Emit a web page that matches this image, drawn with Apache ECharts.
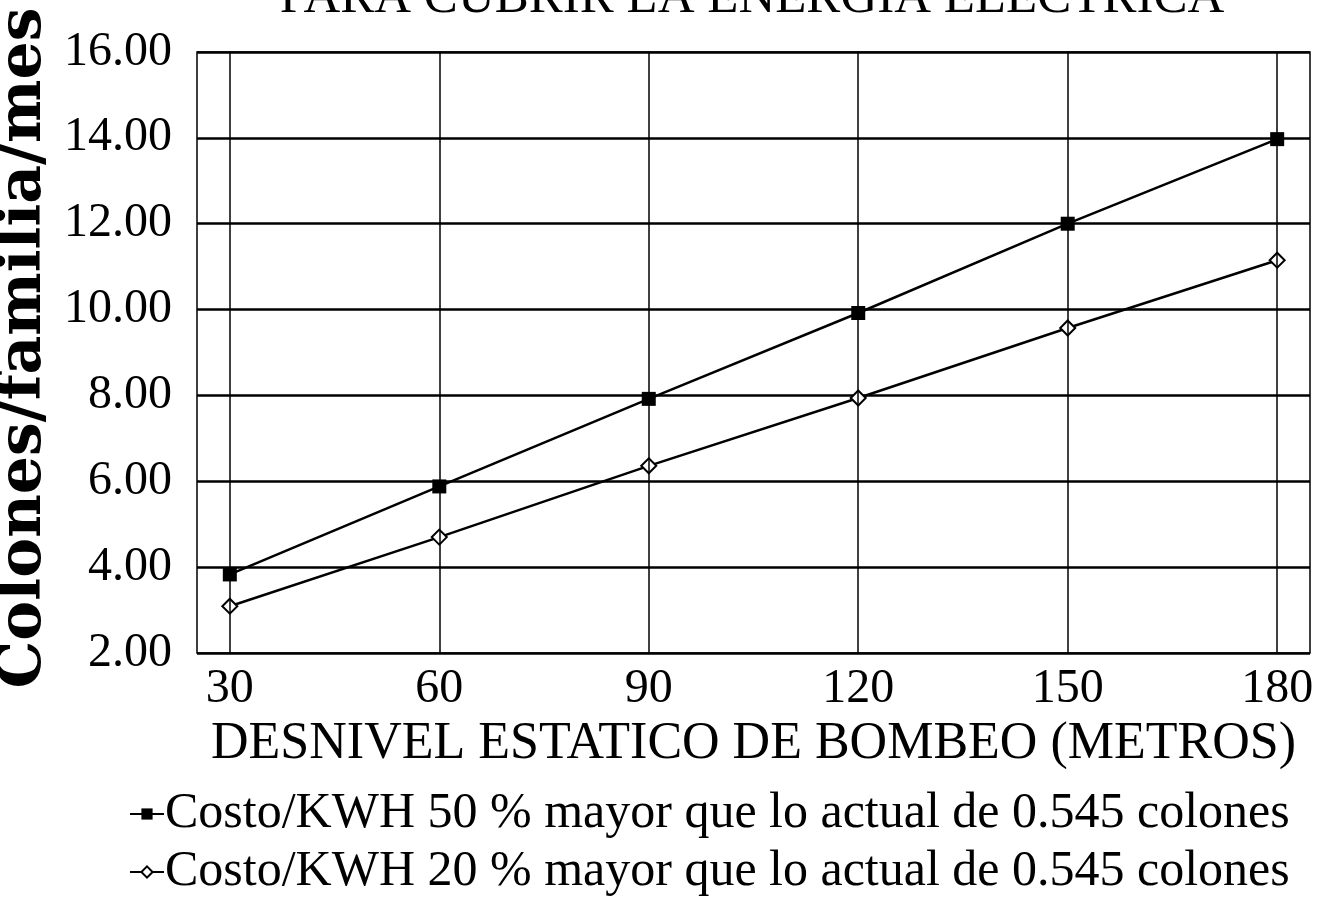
<!DOCTYPE html>
<html>
<head>
<meta charset="utf-8">
<script src="https://cdn.jsdelivr.net/npm/echarts@6/dist/echarts.min.js"></script>
<style>
  html, body { margin: 0; padding: 0; background: #fff; }
  #chart-root { width: 1338px; height: 918px; }
</style>
</head>
<body>
<div id="chart-root"></div>
<script>
// desnivel (metros)
var desnivel = [30, 60, 90, 120, 150, 180];
// colones/familia/mes
var costo50 = [3.83, 5.88, 7.92, 9.92, 12.0, 13.97];
var costo20 = [3.09, 4.70, 6.36, 7.94, 9.57, 11.15];

var serie50 = "Costo/KWH 50 % mayor que lo actual de 0.545 colones";
var serie20 = "Costo/KWH 20 % mayor que lo actual de 0.545 colones";

var chart = echarts.init(document.getElementById("chart-root"));
var serif = "'Liberation Serif', 'DejaVu Serif', serif";

function pairs(ys) {
  return desnivel.map(function (x, i) { return [x, ys[i]]; });
}

var option = {
  animation: false,
  backgroundColor: "#fff",
  textStyle: { fontFamily: serif, color: "#000" },
  title: {
    text: "PARA CUBRIR LA ENERGIA ELECTRICA",
    left: 747,
    textAlign: "center",
    top: -32,
    textStyle: { fontFamily: serif, fontSize: 51, fontWeight: "normal", color: "#000" }
  },
  graphic: [{
    type: "text",
    x: 24,
    y: 348,
    rotation: Math.PI / 2,
    style: {
      text: "Colones/familia/mes",
      font: "bold 60px 'DejaVu Serif', serif",
      fill: "#000",
      align: "center",
      verticalAlign: "middle"
    }
  }],
  grid: {
    left: 197,
    right: 28,
    top: 52,
    bottom: 265,
    show: true,
    borderColor: "#000",
    borderWidth: 1.5
  },
  legend: {
    orient: "vertical",
    left: 124,
    top: 784,
    itemGap: 8,
    itemWidth: 34,
    itemHeight: 14,
    data: [serie50, serie20],
    textStyle: { fontFamily: serif, fontSize: 50, color: "#000", padding: [0, 0, 0, -4] }
  },
  xAxis: {
    type: "value",
    min: 25.3,
    max: 184.7,
    name: "DESNIVEL ESTATICO DE BOMBEO (METROS)",
    nameLocation: "middle",
    nameGap: 64,
    nameTextStyle: { fontFamily: serif, fontSize: 52, color: "#000" },
    axisLine: { show: false },
    axisTick: { show: false, customValues: desnivel },
    splitLine: { show: false },
    axisLabel: {
      customValues: desnivel,
      margin: 12,
      fontFamily: serif,
      fontSize: 48,
      color: "#000"
    }
  },
  yAxis: {
    type: "value",
    min: 2,
    max: 16,
    interval: 2,
    axisLine: { show: false },
    axisTick: { show: false },
    splitLine: { show: true, lineStyle: { color: "#000", width: 2.5 } },
    axisLabel: {
      margin: 25,
      fontFamily: serif,
      fontSize: 48,
      color: "#000",
      formatter: function (v) { return v.toFixed(2); }
    }
  },
  series: [
    {
      name: serie50,
      type: "line",
      data: pairs(costo50),
      symbol: "rect",
      symbolSize: 14,
      z: 3,
      lineStyle: { color: "#000", width: 2.5 },
      itemStyle: { color: "#000" },
      markLine: {
        silent: true,
        symbol: "none",
        label: { show: false },
        lineStyle: { color: "#000", width: 1.5, type: "solid" },
        data: desnivel.map(function (x) { return { xAxis: x }; })
      }
    },
    {
      name: serie20,
      type: "line",
      data: pairs(costo20),
      symbol: "diamond",
      symbolSize: 15,
      z: 3,
      lineStyle: { color: "#000", width: 2.5 },
      itemStyle: { color: "#fff", borderColor: "#000", borderWidth: 2 }
    }
  ]
};

chart.setOption(option);
window.onresize = chart.resize;
</script>
</body>
</html>
